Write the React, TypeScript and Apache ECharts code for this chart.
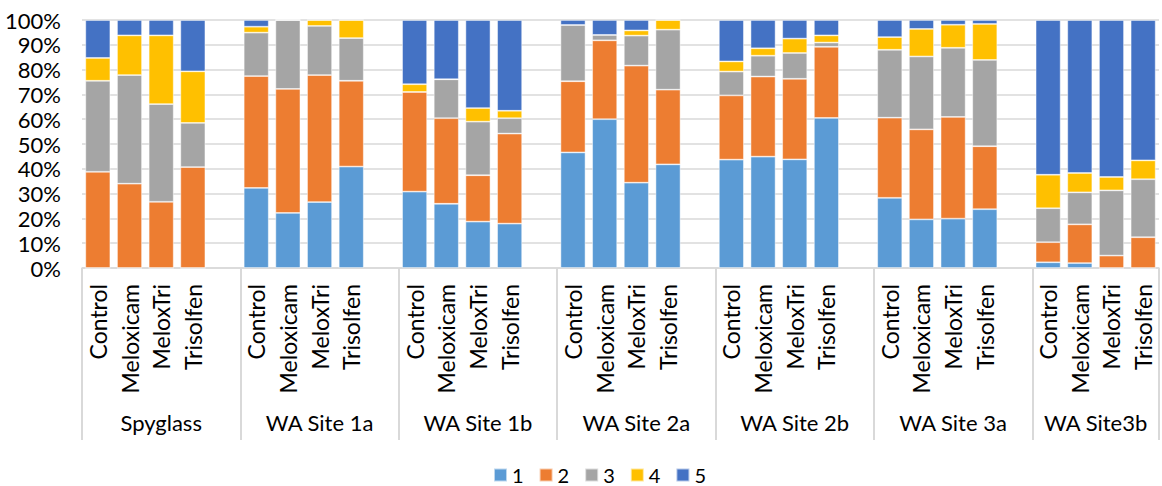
import React, { useEffect, useRef } from "react";
import * as echarts from "echarts";

const groups = ["Spyglass", "WA Site 1a", "WA Site 1b", "WA Site 2a", "WA Site 2b", "WA Site 3a", "WA Site3b"];
const treatments = ["Control", "Meloxicam", "MeloxTri", "Trisolfen"];
const seriesNames = ["1", "2", "3", "4", "5"];
const colors = ["#5B9BD5", "#ED7D31", "#A5A5A5", "#FFC000", "#4472C4"];
const yTicks = [0, 10, 20, 30, 40, 50, 60, 70, 80, 90, 100];

// values per group (4 treatments each), in %
const s1 = [
  [0, 0, 0, 0],
  [32.3, 22.2, 26.6, 40.9],
  [30.8, 25.9, 18.7, 17.9],
  [46.6, 60.0, 34.4, 41.8],
  [43.7, 44.9, 43.8, 60.5],
  [28.3, 19.6, 19.9, 23.7],
  [2.3, 2.0, 0, 0],
];
const s2 = [
  [38.8, 34.0, 26.7, 40.7],
  [45.1, 50.0, 51.2, 34.6],
  [40.2, 34.5, 18.7, 36.3],
  [28.7, 31.8, 47.2, 30.1],
  [25.9, 32.3, 32.5, 28.7],
  [32.3, 36.3, 41.0, 25.4],
  [8.1, 15.6, 5.0, 12.4],
];
const s3 = [
  [36.7, 43.8, 39.4, 17.8],
  [17.5, 27.8, 19.8, 17.2],
  [0, 15.7, 21.6, 6.2],
  [22.7, 2.2, 12.1, 24.2],
  [9.6, 8.4, 10.4, 1.7],
  [27.4, 29.4, 27.9, 34.8],
  [13.7, 12.9, 26.3, 23.4],
];
const s4 = [
  [9.2, 16.0, 27.7, 20.8],
  [2.4, 0, 2.4, 7.3],
  [3.1, 0, 5.5, 3.0],
  [0, 0, 2.1, 3.9],
  [4.1, 3.0, 5.8, 2.9],
  [5.1, 11.1, 9.3, 14.5],
  [13.5, 7.8, 5.4, 7.6],
];
const s5 = [
  [15.3, 6.2, 6.2, 20.7],
  [2.7, 0, 0, 0],
  [25.9, 23.9, 35.5, 36.6],
  [2.0, 6.0, 4.2, 0],
  [16.7, 11.4, 7.5, 6.2],
  [6.9, 3.6, 1.9, 1.6],
  [62.4, 61.7, 63.3, 56.6],
];
const allSeries = [s1, s2, s3, s4, s5];

const FONT = "Lato";

export default function App() {
  const ref = useRef<HTMLDivElement>(null);
  useEffect(() => {
    if (!ref.current) return;
    const chart = echarts.init(ref.current, undefined, { renderer: "svg" });

    // build slots: 4 treatments + blank gap between groups
    const cats: string[] = [];
    groups.forEach((g, gi) => {
      treatments.forEach((t) => cats.push(t));
      if (gi < groups.length - 1) cats.push("");
    });
    const slotCount = cats.length; // 34

    // group axis: half-slot points
    const halfCount = slotCount * 2 + 1;
    const groupData: string[] = new Array(halfCount).fill("");
    const sepIdx: number[] = [];
    let pos = 0;
    groups.forEach((g, gi) => {
      const size = gi < groups.length - 1 ? 5 : 4;
      sepIdx.push(pos * 2);
      groupData[pos * 2 + size] = g;
      pos += size;
    });
    sepIdx.push(pos * 2);

    const series = allSeries.map((s, si) => {
      const data: (number | null)[] = [];
      s.forEach((grp, gi) => {
        grp.forEach((v) => data.push(v));
        if (gi < groups.length - 1) data.push(null);
      });
      return {
        name: seriesNames[si],
        type: "bar",
        stack: "total",
        barCategoryGap: "21%",
        itemStyle: { color: colors[si], borderColor: "rgba(255,255,255,0.6)", borderWidth: 0.8 },
        data,
      };
    });

    chart.setOption({
      animation: false,
      textStyle: { fontFamily: FONT },
      grid: { left: 82, right: -4, top: 20, bottom: 218, containLabel: false },
      legend: {
        data: seriesNames,
        left: 493,
        top: 465,
        padding: 0,
        icon: "rect",
        itemWidth: 13,
        itemHeight: 13,
        itemGap: 15,
        textStyle: { fontFamily: FONT, fontSize: 20, lineHeight: 18, color: "#000" },
      },
      xAxis: [
        {
          type: "category",
          data: cats,
          position: "bottom",
          axisLine: { show: true, lineStyle: { color: "#d9d9d9", width: 1.5 } },
          axisTick: { show: false },
          axisLabel: {
            interval: 0,
            rotate: 90,
            margin: 16,
            fontFamily: FONT,
            fontSize: 23,
            color: "#000",
          },
        },
        {
          type: "category",
          data: groupData,
          position: "bottom",
          boundaryGap: false,
          axisLine: { show: false },
          axisTick: {
            show: true,
            interval: (i: number) => sepIdx.includes(i),
            length: 172,
            lineStyle: { color: "#d9d9d9", width: 2 },
          },
          axisLabel: {
            interval: 0,
            margin: 143,
            fontFamily: FONT,
            fontSize: 22,
            color: "#000",
          },
        },
      ],
      yAxis: {
        type: "value",
        min: yTicks[0],
        max: yTicks[yTicks.length - 1],
        interval: 10,
        axisLine: { show: false },
        axisTick: { show: false },
        splitLine: { lineStyle: { color: "#d9d9d9", width: 1.5 } },
        axisLabel: {
          formatter: "{value}%",
          margin: 21,
          fontFamily: FONT,
          fontSize: 22,
          color: "#000",
        },
      },
      series,
    });
    return () => chart.dispose();
  }, []);
  return (
    <div
      ref={ref}
      style={{ position: "fixed", left: 0, top: 0, width: 1162, height: 486, background: "#fff" }}
    />
  );
}
